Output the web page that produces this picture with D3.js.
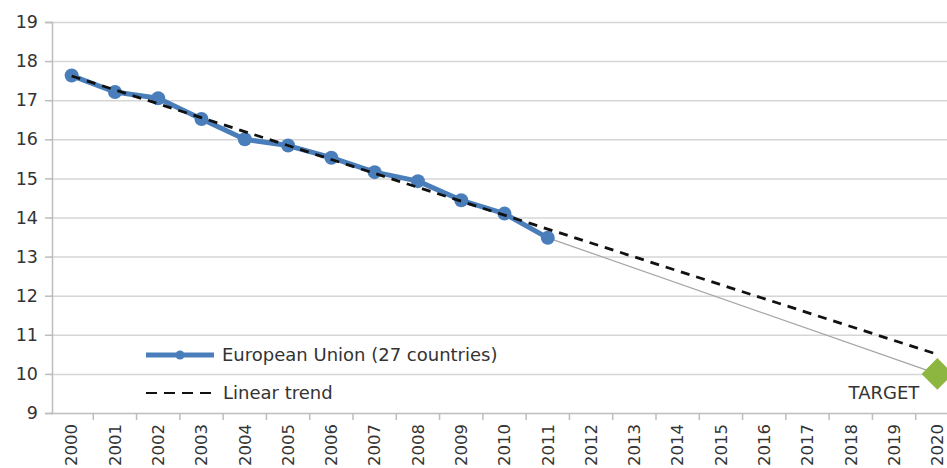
<!DOCTYPE html>
<html>
<head>
<meta charset="utf-8">
<script src="https://cdn.jsdelivr.net/npm/d3@7"></script>
<style>
    body { margin: 0; background: #fff; }
    text { font-family: "DejaVu Sans", Verdana, sans-serif; fill: #333; }
</style>
</head>
<body>
<div class="canvas"></div>
<script>
// data
const years = d3.range(2000, 2021).map(String);
const euYears = ['2000', '2001', '2002', '2003', '2004', '2005', '2006', '2007', '2008', '2009', '2010', '2011'];
const euValues = [17.63, 17.21, 17.05, 16.52, 16.0, 15.84, 15.53, 15.16, 14.93, 14.44, 14.1, 13.48];
const trendYears = ['2000', '2020'];
const trendValues = [17.62, 10.5];
const targetYear = '2020';
const targetValue = 10.0;
const yTicks = [9, 10, 11, 12, 13, 14, 15, 16, 17, 18, 19];

const W = 947, H = 468;
const svg = d3.select('.canvas').append('svg')
    .attr('width', W)
    .attr('height', H);

const margin = { left: 50, top: 22, right: -12, bottom: 55 };
const graphHeight = H - margin.top - margin.bottom;
const graphWidth = W - margin.left - margin.right;

const graph = svg.append('g')
    .attr('transform', `translate(${margin.left},${margin.top})`);

// scales
const x = d3.scaleBand()
    .domain(years)
    .range([0, graphWidth])
    .padding(0);

const y = d3.scaleLinear()
    .domain([9, 19])
    .range([graphHeight, 0]);

const cx = d => x(d) + x.bandwidth() / 2;

// gridlines
graph.append('g')
    .attr('class', 'grid')
    .call(d3.axisLeft(y).tickValues(yTicks.slice(1)).tickSize(-graphWidth).tickFormat(''))
    .call(g => g.select('.domain').remove())
    .selectAll('line')
        .attr('stroke', '#d6d6d6')
        .attr('stroke-width', 1.5);

// axes
const yAxisGroup = graph.append('g')
    .attr('transform', 'translate(2,0)')
    .call(d3.axisLeft(y).tickValues(yTicks).tickSize(7).tickPadding(7).tickFormat(d3.format('d')));
yAxisGroup.select('.domain').attr('stroke', '#bdbdbd').attr('stroke-width', 1.5);
yAxisGroup.selectAll('.tick line').attr('stroke', '#bdbdbd').attr('stroke-width', 1.5);
yAxisGroup.selectAll('text')
    .attr('font-size', 17.5)
    .attr('fill', '#333');

const xAxisGroup = graph.append('g')
    .attr('transform', `translate(0,${graphHeight})`)
    .call(d3.axisBottom(x).tickSize(0).tickPadding(0));
xAxisGroup.select('.domain').attr('stroke', '#bdbdbd').attr('stroke-width', 1.5);
xAxisGroup.selectAll('text')
    .attr('font-size', 16.5)
    .attr('fill', '#333')
    .attr('text-anchor', 'end')
    .attr('dy', '0.35em')
    .attr('transform', 'translate(0,11) rotate(-90)')
    .attr('x', 0)
    .attr('y', 0);
// excel style ticks between categories
xAxisGroup.selectAll('.sep')
    .data(years.slice(1))
    .enter().append('line')
    .attr('class', 'sep')
    .attr('x1', d => x(d)).attr('x2', d => x(d))
    .attr('y1', 0).attr('y2', 7)
    .attr('stroke', '#bdbdbd')
    .attr('stroke-width', 1.5);

// line from last observation to the target
const lastYear = euYears[euYears.length - 1];
const lastValue = euValues[euValues.length - 1];
graph.append('line')
    .attr('x1', cx(lastYear)).attr('y1', y(lastValue))
    .attr('x2', cx(targetYear)).attr('y2', y(targetValue))
    .attr('stroke', '#a5a5a5')
    .attr('stroke-width', 1.2);

// EU series
const euData = euYears.map((d, i) => ({ year: d, value: euValues[i] }));
const line = d3.line().x(d => cx(d.year)).y(d => y(d.value));

graph.append('path')
    .datum(euData)
    .attr('d', line)
    .attr('fill', 'none')
    .attr('stroke', '#4a7ebb')
    .attr('stroke-width', 5)
    .attr('stroke-linejoin', 'round');

graph.selectAll('circle.eu')
    .data(euData)
    .enter().append('circle')
    .attr('class', 'eu')
    .attr('cx', d => cx(d.year))
    .attr('cy', d => y(d.value))
    .attr('r', 7)
    .attr('fill', '#4a7ebb');

// linear trend
const trendData = trendYears.map((d, i) => ({ year: d, value: trendValues[i] }));
graph.append('path')
    .datum(trendData)
    .attr('d', line)
    .attr('fill', 'none')
    .attr('stroke', '#111')
    .attr('stroke-width', 2.8)
    .attr('stroke-dasharray', '9,7');

// target marker
graph.append('path')
    .attr('d', d3.symbol(d3.symbolSquare, 500)())
    .attr('transform', `translate(${cx(targetYear)},${y(targetValue)}) rotate(45)`)
    .attr('fill', '#8db640');

graph.append('text')
    .attr('x', cx(targetYear) - 18)
    .attr('y', y(targetValue) + 25)
    .attr('text-anchor', 'end')
    .attr('font-size', 18)
    .attr('fill', '#333')
    .text('TARGET');

// legend
const legend = svg.append('g').attr('transform', 'translate(146,355)');
legend.append('line')
    .attr('x1', 0).attr('x2', 68).attr('y1', 0).attr('y2', 0)
    .attr('stroke', '#4a7ebb').attr('stroke-width', 5);
legend.append('circle')
    .attr('cx', 34).attr('cy', 0).attr('r', 4.5)
    .attr('fill', '#4a7ebb');
legend.append('text')
    .attr('x', 76).attr('y', 0).attr('dy', '0.35em')
    .attr('font-size', 18)
    .text('European Union (27 countries)');
legend.append('line')
    .attr('x1', 0).attr('x2', 68).attr('y1', 38).attr('y2', 38)
    .attr('stroke', '#111').attr('stroke-width', 2)
    .attr('stroke-dasharray', '11,7');
legend.append('text')
    .attr('x', 77).attr('y', 38).attr('dy', '0.35em')
    .attr('font-size', 18)
    .text('Linear trend');
</script>
</body>
</html>
